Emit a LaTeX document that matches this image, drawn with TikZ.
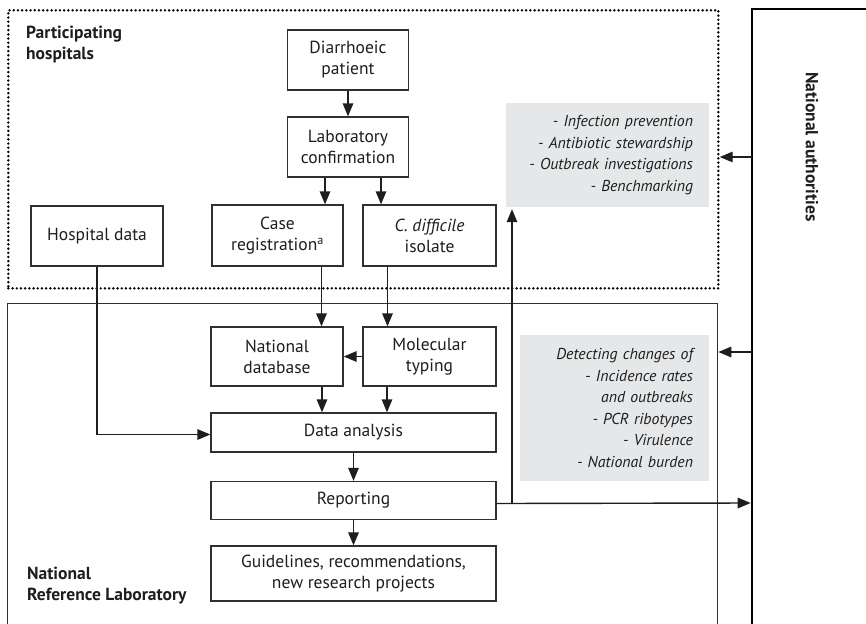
\documentclass[tikz,border=0pt]{standalone}
\usepackage{fontspec}
\setmainfont{PT Sans}
\usetikzlibrary{arrows.meta}
\definecolor{linec}{HTML}{303030}
\definecolor{arrc}{HTML}{1E1E1E}
\definecolor{boxgray}{HTML}{E6E7E8}
\definecolor{txt}{HTML}{1E1E1E}
\begin{document}
\begin{tikzpicture}[x=1pt,y=-1pt,
  stepbox/.style={draw=linec, line width=1.3pt, align=center, inner sep=2pt, text=txt,
    font=\fontsize{17.5}{21}\selectfont},
  arr/.style={draw=arrc, line width=1.4pt, -{Triangle[length=13pt,width=10.5pt]}},
  graybox/.style={fill=boxgray, align=right, inner xsep=16pt, inner ysep=0pt, text=txt,
    font=\fontsize{15.8}{21.6}\selectfont\itshape},
  lbl/.style={font=\fontsize{17.5}{21}\selectfont\bfseries, align=left, inner sep=0pt, text=txt}]
\useasboundingbox (0,0) rectangle (866,623);
\clip (0,0) rectangle (866,623);
\fill[white] (0,0) rectangle (866,623);

% group boxes
\node[draw=black, line width=2.7pt, dash pattern=on 0pt off 4.2pt, line cap=round,
  minimum width=710pt, minimum height=278pt, inner sep=0pt, anchor=north west] (hp) at (7,9) {};
\node[draw=linec, line width=1.3pt, minimum width=710pt, minimum height=340pt,
  inner sep=0pt, anchor=north west] (nrl) at (7,303) {};

% national authorities
\draw[line width=2.7pt, black] (900,9) -- (752,9) -- (752,660);
\node[font=\fontsize{17.5}{21}\selectfont\bfseries, rotate=-90, text=txt] (na) at (812,147) {National authorities};
\coordinate (na1) at (752,157);
\coordinate (na2) at (752,352);
\coordinate (na3) at (752,503);

% labels
\node[lbl, anchor=west] (lblhp) at (26,45) {Participating\\hospitals};
\node[lbl, anchor=west] (lblnrl) at (27,586) {National\\Reference Laboratory};

% grey boxes
\node[graybox, minimum width=203pt, text width=171pt, minimum height=104pt] (g1) at (607.5,155)
  {- Infection prevention\\- Antibiotic stewardship\\- Outbreak investigations\\- Benchmarking};
\node[graybox, minimum width=189pt, text width=157pt, minimum height=146pt] (g2) at (614.5,408)
  {Detecting changes of\\- Incidence rates\\and outbreaks\\- PCR ribotypes\\- Virulence\\- National burden};

% flow nodes
\node[stepbox, minimum width=121pt, minimum height=60pt] (pat) at (348,60) {Diarrhoeic\\patient};
\node[stepbox, minimum width=121pt, minimum height=60pt] (lab) at (348,147) {Laboratory\\confirmation};
\node[stepbox, minimum width=131pt, minimum height=61pt] (case) at (277.5,235.5) {Case\\registration\textsuperscript{a}};
\node[stepbox, minimum width=133pt, minimum height=61pt] (cdiff) at (429.5,235.5) {\textit{C. difficile}\\isolate};
\node[stepbox, minimum width=132pt, minimum height=60pt] (hosp) at (97,236) {Hospital data};
\node[stepbox, minimum width=132pt, minimum height=59pt] (natdb) at (277,356.5) {National\\database};
\node[stepbox, minimum width=133pt, minimum height=59pt] (mol) at (429.5,356.5) {Molecular\\typing};
\node[stepbox, minimum width=285pt, minimum height=39pt] (data) at (353.5,432.5) {Data analysis};
\node[stepbox, minimum width=285pt, minimum height=38pt] (rep) at (353.5,500.5) {Reporting};
\node[stepbox, minimum width=285pt, minimum height=55pt] (guide) at (353.5,573.5) {Guidelines, recommendations,\\new research projects};

% connectors
\draw[arr] (pat.south) -- (lab.north);
\draw[arr] ([xshift=-23pt]lab.south) -- ([xshift=-23pt]lab.south |- case.north);
\draw[arr] ([xshift=33pt]lab.south) -- ([xshift=33pt]lab.south |- cdiff.north);
\draw[arr] ([xshift=44pt]case.south) -- ([xshift=44pt]case.south |- natdb.north);
\draw[arr] ([xshift=-42pt]cdiff.south) -- ([xshift=-42pt]cdiff.south |- mol.north);
\draw[arr] (mol.west) -- (natdb.east);
\draw[arr] ([xshift=45pt]natdb.south) -- ([xshift=45pt]natdb.south |- data.north);
\draw[arr] ([xshift=-42.5pt]mol.south) -- ([xshift=-42.5pt]mol.south |- data.north);
\draw[arr] (hosp.south) |- ([yshift=-2pt]data.west);
\draw[arr] (data.south) -- (rep.north);
\draw[arr] (rep.south) -- (guide.north);
\draw[arr, shorten >=1.3pt] ([yshift=-3pt]rep.east) -- (na3);
\coordinate (br) at (512,503);
\draw[arr, shorten >=2pt] (br) -- (br |- g1.south);
\draw[arr] (na1) -- (hp.east |- na1);
\draw[arr] (na2) -- (nrl.east |- na2);
\end{tikzpicture}
\end{document}
